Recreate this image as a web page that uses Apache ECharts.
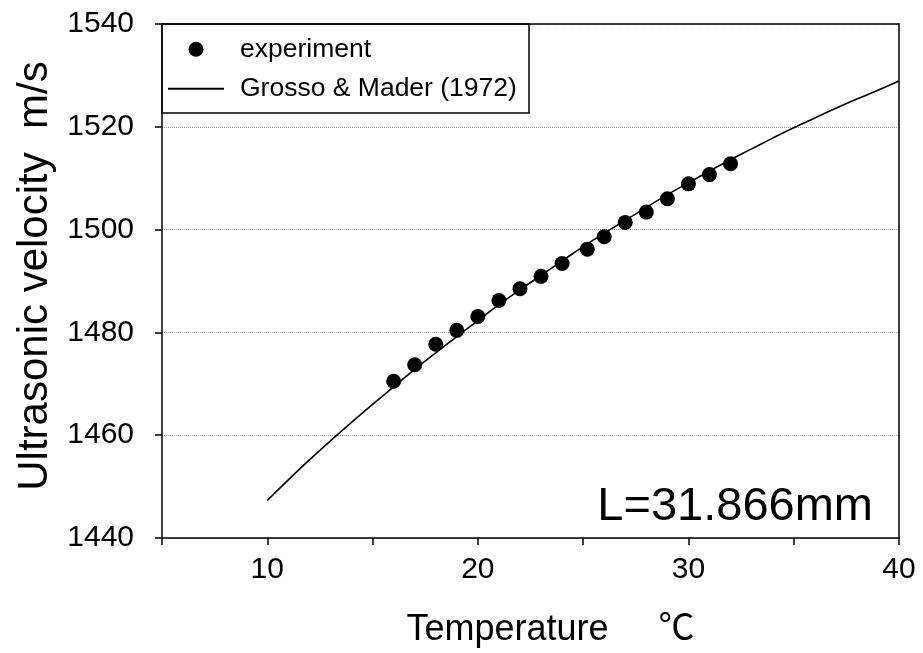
<!DOCTYPE html>
<html>
<head>
<meta charset="utf-8">
<script src="https://cdn.jsdelivr.net/npm/echarts@6/dist/echarts.min.js"></script>
<style>
  html, body { margin: 0; padding: 0; background: #fff; }
  #chart { width: 923px; height: 653px; }
</style>
</head>
<body>
<div id="chart"></div>
<script>
// Sound speed in water vs temperature
const modelTemps = [10, 11, 12, 13, 14, 15, 16, 17, 18, 19, 20, 21, 22, 23, 24, 25, 26, 27, 28, 29, 30,
  31, 32, 33, 34, 35, 36, 37, 38, 39, 40];
const modelVelocity = [1447.3, 1451.3, 1455.2, 1458.9, 1462.5, 1466.0, 1469.4, 1472.8, 1476.0, 1479.2, 1482.3,
  1485.4, 1488.3, 1491.1, 1493.9, 1496.7, 1499.3, 1501.8, 1504.3, 1506.8, 1509.1,
  1511.4, 1513.6, 1515.7, 1517.8, 1519.8, 1521.7, 1523.6, 1525.4, 1527.1, 1528.9];

const expTemps = [16, 17, 18, 19, 20, 21, 22, 23, 24, 25.2, 26, 27, 28, 29, 30, 31, 32];
const expVelocity = [1470.5, 1473.7, 1477.7, 1480.4, 1483.1, 1486.2, 1488.5, 1490.9, 1493.4, 1496.2,
  1498.6, 1501.4, 1503.4, 1506.0, 1508.9, 1510.7, 1512.8];

const xTickLabels = [10, 20, 30, 40];
const yTickLabels = [1440, 1460, 1480, 1500, 1520, 1540];

const seriesNames = ['experiment', 'Grosso & Mader (1972)'];
const noteText = 'L=31.866mm';

const FONT = '"Liberation Sans", Arial, "Noto Sans CJK SC", sans-serif';
const chart = echarts.init(document.getElementById('chart'), null, { renderer: 'canvas' });

const option = {
  backgroundColor: '#ffffff',
  animation: false,
  grid: { left: 162, right: 24, top: 24, bottom: 112, containLabel: false },
  legend: {
    orient: 'vertical',
    left: 168,
    top: 36,
    padding: 0,
    itemGap: 13,
    itemWidth: 56,
    itemHeight: 15,
    data: [
      { name: seriesNames[0], icon: 'circle' },
      { name: seriesNames[1], icon: 'path://M0,0H56V2H0Z' }
    ],
    textStyle: { fontFamily: FONT, fontSize: 26.5, color: '#000', padding: [0, 0, 0, 11] }
  },
  xAxis: [{
    type: 'value',
    min: 5,
    max: 40,
    interval: 5,
    position: 'bottom',
    name: 'Temperature     ℃',
    nameLocation: 'middle',
    nameGap: 74,
    nameTextStyle: { fontFamily: FONT, fontSize: 36, color: '#000', padding: [0, 0, 0, 40] },
    axisLine: { show: true, onZero: false, lineStyle: { color: '#000', width: 1.5 } },
    axisTick: { show: true, inside: false, length: 7, lineStyle: { color: '#000', width: 1.5 } },
    axisLabel: {
      margin: 17,
      fontFamily: FONT, fontSize: 30, color: '#000',
      formatter: v => (xTickLabels.indexOf(v) >= 0 ? String(v) : '')
    },
    splitLine: { show: false }
  }, {
    type: 'value',
    min: 5,
    max: 40,
    position: 'top',
    axisLine: { show: true, onZero: false, lineStyle: { color: '#000', width: 1.5 } },
    axisTick: { show: false },
    axisLabel: { show: false },
    splitLine: { show: false }
  }],
  yAxis: [{
    type: 'value',
    min: 1440,
    max: 1540,
    interval: 20,
    position: 'left',
    name: 'Ultrasonic velocity  m/s',
    nameLocation: 'middle',
    nameRotate: 90,
    nameGap: 106,
    nameTextStyle: { fontFamily: FONT, fontSize: 42, color: '#000', padding: [0, 0, 0, 10] },
    axisLine: { show: true, onZero: false, lineStyle: { color: '#000', width: 1.5 } },
    axisTick: { show: true, inside: false, length: 7, lineStyle: { color: '#000', width: 1.5 } },
    axisLabel: {
      margin: 28,
      fontFamily: FONT, fontSize: 30, color: '#000',
      formatter: v => (yTickLabels.indexOf(v) >= 0 ? String(v) : '')
    },
    splitLine: { show: true, lineStyle: { color: '#a0a0a0', width: 1, type: [1, 1] } }
  }, {
    type: 'value',
    min: 1440,
    max: 1540,
    position: 'right',
    axisLine: { show: true, onZero: false, lineStyle: { color: '#000', width: 1.5 } },
    axisTick: { show: false },
    axisLabel: { show: false },
    splitLine: { show: false }
  }],
  series: [{
    name: seriesNames[0],
    type: 'scatter',
    symbol: 'circle',
    symbolSize: 15,
    itemStyle: { color: '#000', opacity: 1 },
    z: 4,
    data: expTemps.map((t, i) => [t, expVelocity[i]])
  }, {
    name: seriesNames[1],
    type: 'line',
    smooth: true,
    symbol: 'none',
    lineStyle: { color: '#000', width: 1.6 },
    itemStyle: { color: '#000' },
    z: 3,
    data: modelTemps.map((t, i) => [t, modelVelocity[i]])
  }],
  graphic: [{
    type: 'rect',
    z: 10,
    shape: { x: 162, y: 24, width: 367, height: 89 },
    style: { fill: 'none', stroke: '#000', lineWidth: 1.5 }
  }, {
    type: 'text',
    z: 10,
    x: 873,
    y: 531,
    style: {
      text: noteText,
      font: '47px ' + FONT,
      fill: '#000',
      textAlign: 'right',
      textVerticalAlign: 'bottom'
    }
  }]
};

chart.setOption(option);
</script>
</body>
</html>
